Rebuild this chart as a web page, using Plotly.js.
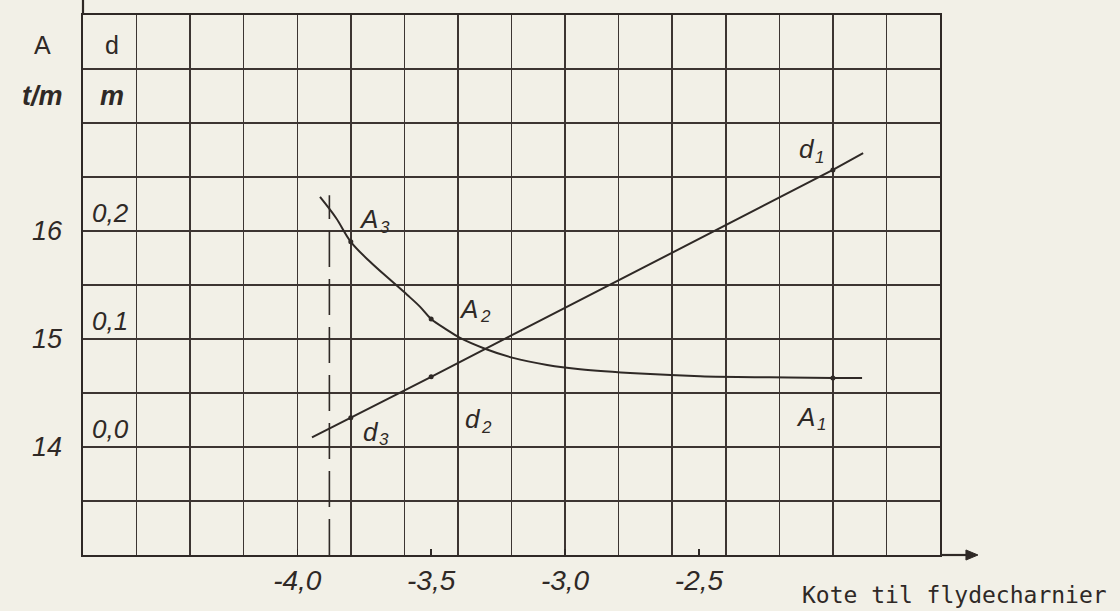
<!DOCTYPE html>
<html>
<head>
<meta charset="utf-8">
<script src="https://cdn.plot.ly/plotly-3.0.1.min.js"></script>
<style>
  html, body { margin:0; padding:0; background:#f2f0e7; }
  #chart { width:1120px; height:611px; }
</style>
</head>
<body>
<div id="chart"></div>
<script>
// ---- data ----
// A curve (anchor force, t/m) vs. level of hinge
const xA = [-3.915, -3.855, -3.8, -3.728, -3.654, -3.59, -3.542, -3.5, -3.441, -3.392, -3.299, -3.194, -3.067, -2.944, -2.72, -2.496, -2.235, -2.0, -1.891];
const yA = [16.315, 16.12, 15.90, 15.715, 15.55, 15.41, 15.30, 15.185, 15.085, 15.01, 14.91, 14.825, 14.76, 14.72, 14.68, 14.655, 14.645, 14.64, 14.64];
// marked points A3, A2, A1
const xAPts = [-3.8, -3.5, -2.0];
const yAPts = [15.90, 15.185, 14.64];
// d line (driving depth, m)
const xD = [-3.945, -3.8, -3.5, -2.0, -1.887];
const yD = [0.009, 0.027, 0.065, 0.2565, 0.272];
// marked points d3, d2, d1
const xDPts = [-3.8, -3.5, -2.0];
const yDPts = [0.027, 0.065, 0.2565];
// dashed vertical reference
const xDash = [-3.88, -3.88];
const yDash = [13.0, 16.33];
// tick labels
const xTickVals = [-4.0, -3.5, -3.0, -2.5];
const xTickText = ['-4,0', '-3,5', '-3,0', '-2,5'];
const yATickVals = [14, 15, 16];
const yATickText = ['14', '15', '16'];
const yDTickVals = [0.0, 0.1, 0.2];
const yDTickText = ['0,0', '0,1', '0,2'];
// point labels: letter, index, label position
const ptLetters = ['A', 'A', 'A', 'd', 'd', 'd'];
const ptIndex = ['3', '2', '1', '3', '2', '1'];
const ptLabX = [-3.71, -3.336, -2.078, -3.706, -3.325, -2.078];
const ptLabY = [16.10, 15.27, 14.27, 14.13, 14.25, 16.75];

const ink = '#2f2926';
const gridInk = '#3d3532';
const hand = 'Liberation Sans, Arial, sans-serif';

const traces = [
  { x: xDash, y: yDash, xaxis:'x', yaxis:'y', mode:'lines',
    line:{color:ink, width:1.6, dash:'36px,12px'}, hoverinfo:'skip', showlegend:false },
  { x: xA, y: yA, xaxis:'x', yaxis:'y', mode:'lines',
    line:{color:ink, width:2, shape:'spline', smoothing:1.0}, showlegend:false },
  { x: xAPts, y: yAPts, xaxis:'x', yaxis:'y', mode:'markers',
    marker:{color:ink, size:5}, showlegend:false },
  { x: xD, y: yD, xaxis:'x2', yaxis:'y2', mode:'lines',
    line:{color:ink, width:2}, showlegend:false },
  { x: xDPts, y: yDPts, xaxis:'x2', yaxis:'y2', mode:'markers',
    marker:{color:ink, size:5}, showlegend:false },
  // carrier for the A tick-label axis (no visible mark)
  { x: [-4.8], y: [13], xaxis:'x', yaxis:'y3', mode:'markers', marker:{opacity:0}, hoverinfo:'skip', showlegend:false }
];

function hdr(text, px, py, italic) {
  return {text:text, x:(px-83)/857, y:(555-py)/540, xref:'paper', yref:'paper', showarrow:false,
          xanchor:'center', yanchor:'middle',
          font:{family:hand, size:italic?27:25, color:ink, style:italic?'italic':'normal', weight:italic?600:300}};
}

const pointLabels = [];
for (let i = 0; i < ptLetters.length; i++) {
  pointLabels.push({text:ptLetters[i], x:ptLabX[i], y:ptLabY[i], xref:'x', yref:'y', showarrow:false,
    xanchor:'right', yanchor:'middle', xshift:5, yshift:1,
    font:{family:hand, size:26, color:ink, style:'italic'}});
  pointLabels.push({text:ptIndex[i], x:ptLabX[i], y:ptLabY[i], xref:'x', yref:'y', showarrow:false,
    xanchor:'left', yanchor:'middle', xshift:ptLetters[i] === 'd' ? 1 : 3, yshift:-7,
    font:{family:hand, size:17, color:ink, style:'italic'}});
}

const layout = {
  width:1120, height:611,
  margin:{l:83, r:180, t:15, b:56, pad:0},
  paper_bgcolor:'#f2f0e7',
  plot_bgcolor:'#f2f0e7',
  showlegend:false,
  xaxis:{range:[-4.8,-1.6], tick0:-4.8, dtick:0.2, showgrid:true, gridcolor:gridInk, gridwidth:1.5,
         showticklabels:false, ticks:'', zeroline:false, showline:true, linecolor:ink, linewidth:2.2, mirror:true},
  xaxis2:{range:[-4.8,-1.6], overlaying:'x', anchor:'y', side:'bottom', showgrid:false, zeroline:false,
          tickmode:'array', tickvals:xTickVals, ticktext:xTickText, ticks:'inside', ticklen:6, tickwidth:1.4, tickcolor:ink,
          tickfont:{family:hand, size:28, color:ink, style:'italic'}, ticklabelstandoff:6, showline:false},
  yaxis:{range:[13,18], tick0:13, dtick:0.5, showgrid:true, gridcolor:gridInk, showticklabels:false,
         gridwidth:1.5, zeroline:false, ticks:'', showline:true, linecolor:ink, linewidth:2.2, mirror:true},
  yaxis3:{range:[13,18], overlaying:'y', anchor:'x', side:'left', showgrid:false, zeroline:false,
          tickmode:'array', tickvals:yATickVals, ticktext:yATickText, ticks:'', showline:false,
          tickfont:{family:hand, size:27, color:ink, style:'italic'}, ticklabelstandoff:20},
  yaxis2:{range:[-0.1,0.4], overlaying:'y', anchor:'x', side:'left', showgrid:false, zeroline:false,
          tickmode:'array', tickvals:yDTickVals, ticktext:yDTickText, ticks:'', ticklabelposition:'inside top',
          ticklabelstandoff:6,
          tickfont:{family:hand, size:26, color:ink, style:'italic'}, showline:false},
  shapes:[
    {type:'line', xref:'paper', yref:'paper', x0:0, x1:0, y0:1, y1:1.03, line:{color:ink, width:2.2}},
    {type:'line', xref:'paper', yref:'paper', x0:1, x1:1.036, y0:0, y1:0, line:{color:ink, width:2.2}},
    {type:'path', xref:'paper', yref:'paper', path:'M 1.0303 0.0093 L 1.0443 0 L 1.0303 -0.0093 Z',
     fillcolor:ink, line:{color:ink, width:1}}
  ],
  annotations:[
    {text:'Kote til flydecharnier', x:(954-83)/857, y:(555-595)/540, xref:'paper', yref:'paper', showarrow:false,
     xanchor:'center', yanchor:'middle', font:{family:'DejaVu Sans Mono, monospace', size:23, color:ink}},
    hdr('A', 42, 45, false), hdr('d', 112, 45, false),
    hdr('t/m', 42, 96, true), hdr('m', 112, 96, true)
  ].concat(pointLabels)
};

Plotly.newPlot('chart', traces, layout, {staticPlot:true, displayModeBar:false});
</script>
</body>
</html>
